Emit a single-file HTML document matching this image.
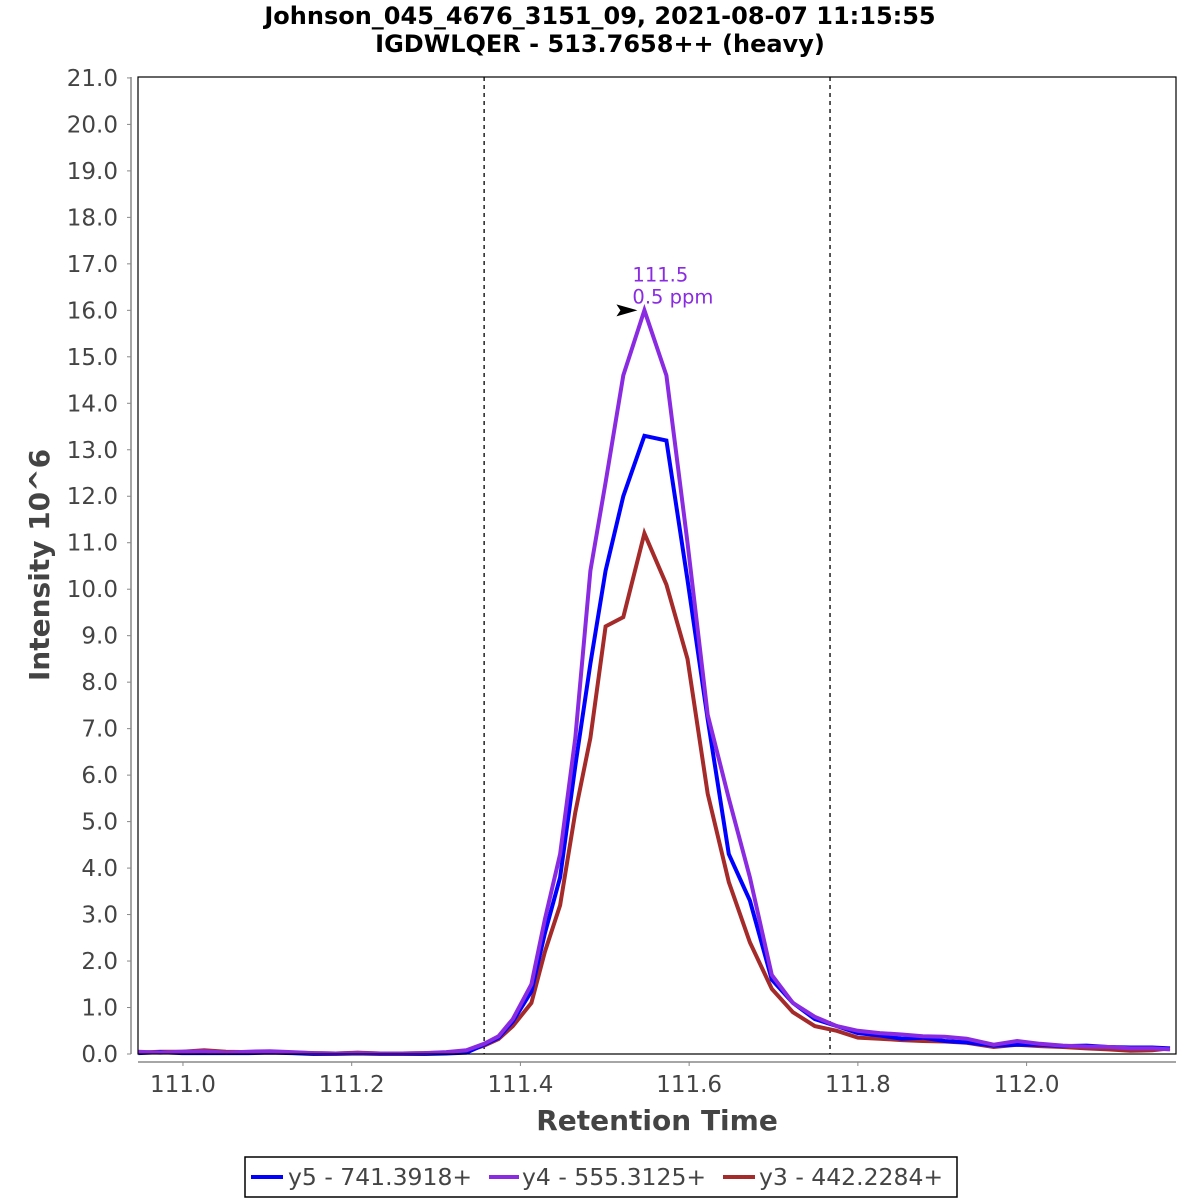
<!DOCTYPE html>
<html><head><meta charset="utf-8"><style>
body{margin:0;background:#fff;font-family:"Liberation Sans","DejaVu Sans",sans-serif}
svg{display:block}
</style></head><body>
<svg id="chart" width="1200" height="1200" xmlns="http://www.w3.org/2000/svg" font-family="DejaVu Sans, Liberation Sans, sans-serif">
<rect width="1200" height="1200" fill="#fff"/>
<text x="600" y="24" text-anchor="middle" font-size="24" font-weight="bold">Johnson_045_4676_3151_09, 2021-08-07 11:15:55</text>
<text x="600" y="52" text-anchor="middle" font-size="24" font-weight="bold">IGDWLQER - 513.7658++ (heavy)</text>
<g id="yaxis"></g>
<g id="xaxis"></g>
<g id="plot"></g>
<rect x="138" y="77" width="1038" height="977" fill="none" stroke="#000" stroke-width="1.2"/>
<text transform="translate(49,565) rotate(-90)" text-anchor="middle" font-size="28" font-weight="bold" fill="#444">Intensity 10^6</text>
<text x="657" y="1130" text-anchor="middle" font-size="28" font-weight="bold" fill="#444">Retention Time</text>
<g>
<rect x="245" y="1157" width="712" height="40" fill="#fff" stroke="#000" stroke-width="1.5"/>
<line x1="251" y1="1177" x2="283" y2="1177" stroke="#0000ff" stroke-width="4"/>
<text x="288" y="1185" font-size="23.5" fill="#444">y5 - 741.3918+</text>
<line x1="489" y1="1177" x2="519" y2="1177" stroke="#8a2be2" stroke-width="4"/>
<text x="522" y="1185" font-size="23.5" fill="#444">y4 - 555.3125+</text>
<line x1="723" y1="1177" x2="755" y2="1177" stroke="#a52a2a" stroke-width="4"/>
<text x="759" y="1185" font-size="23.5" fill="#444">y3 - 442.2284+</text>
</g>
</svg>
<script>
const times=[110.947,110.973,110.999,111.025,111.051,111.077,111.103,111.129,111.155,111.181,111.207,111.234,111.260,111.286,111.312,111.336,111.357,111.374,111.391,111.413,111.429,111.447,111.465,111.483,111.501,111.522,111.547,111.573,111.598,111.622,111.647,111.672,111.698,111.723,111.749,111.775,111.800,111.826,111.852,111.877,111.903,111.929,111.961,111.989,112.016,112.043,112.071,112.097,112.123,112.149,112.170];
const y5=[0.02,0.04,0.02,0.02,0.02,0.02,0.03,0.02,0.0,0.0,0.01,0.0,0.0,0.0,0.01,0.03,0.2,0.35,0.7,1.35,2.6,3.8,6.2,8.4,10.4,12.0,13.3,13.2,10.2,7.2,4.3,3.3,1.6,1.1,0.75,0.6,0.45,0.4,0.33,0.35,0.28,0.25,0.18,0.2,0.2,0.17,0.18,0.15,0.14,0.14,0.12];
const y4=[0.05,0.03,0.05,0.06,0.03,0.05,0.06,0.04,0.02,0.01,0.02,0.01,0.01,0.02,0.04,0.08,0.22,0.38,0.75,1.5,2.9,4.3,6.8,10.4,12.3,14.6,16.0,14.6,11.0,7.3,5.5,3.8,1.7,1.1,0.8,0.6,0.5,0.45,0.42,0.38,0.37,0.33,0.2,0.28,0.22,0.18,0.16,0.15,0.12,0.12,0.1];
const y3=[0.03,0.05,0.05,0.08,0.05,0.04,0.05,0.03,0.02,0.01,0.03,0.01,0.01,0.02,0.03,0.06,0.18,0.32,0.6,1.1,2.2,3.2,5.2,6.8,9.2,9.4,11.2,10.1,8.5,5.6,3.7,2.4,1.4,0.9,0.6,0.5,0.35,0.33,0.3,0.28,0.27,0.24,0.15,0.2,0.17,0.15,0.12,0.1,0.07,0.08,0.12];
const yTicks=[0,1,2,3,4,5,6,7,8,9,10,11,12,13,14,15,16,17,18,19,20,21];
const xTicks=[111.0,111.2,111.4,111.6,111.8,112.0];
const boundaries=[111.357,111.767];
const peakTime=111.547, peakValue=16.0;

const X0=138,X1=1176,Y0=1054,Y1=77;
const xMin=110.9467,xMax=112.1771,yMin=0,yMax=21.02;
const sx=t=>X0+(t-xMin)/(xMax-xMin)*(X1-X0);
const sy=v=>Y0-(v-yMin)/(yMax-yMin)*(Y0-Y1);
const NS="http://www.w3.org/2000/svg";
function mk(tag,attrs,parent){const e=document.createElementNS(NS,tag);for(const k in attrs)e.setAttribute(k,attrs[k]);parent.appendChild(e);return e;}
const ya=document.getElementById('yaxis'),xa=document.getElementById('xaxis'),pl=document.getElementById('plot');
mk('line',{x1:131,y1:Y1,x2:131,y2:Y0,stroke:'#888','stroke-width':1.5},ya);
yTicks.forEach(v=>{
  const tk=mk('line',{x1:127,x2:131,y1:sy(v),y2:sy(v),stroke:'#888'},ya);
  
  
  const t=mk('text',{x:118,y:sy(v)+8,'text-anchor':'end','font-size':23,fill:'#444'},ya);
  t.textContent=v.toFixed(1);
  
  
});
mk('line',{x1:X0,y1:1062,x2:X1,y2:1062,stroke:'#888','stroke-width':1.5},xa);
xTicks.forEach(v=>{
  const tk=mk('line',{x1:sx(v),x2:sx(v),y1:1062,y2:1066,stroke:'#888'},xa);
  
  
  const t=mk('text',{x:sx(v),y:1092,'text-anchor':'middle','font-size':23,fill:'#444'},xa);
  t.textContent=v.toFixed(1);
  
  
});
boundaries.forEach(b=>{
  const l=mk('line',{x1:sx(b),x2:sx(b),y1:Y1,y2:Y0,stroke:'#222','stroke-width':1.5,'stroke-dasharray':'4,4'},pl);
  
  
});
[[y3,'#a52a2a','series-y3'],[y5,'#0000ff','series-y5'],[y4,'#8a2be2','series-y4']].forEach(([d,c,n])=>{
  const pts=times.map((t,i)=>sx(t).toFixed(1)+','+sy(d[i]).toFixed(1)).join(' ');
  const p=mk('polyline',{points:pts,fill:'none',stroke:c,'stroke-width':4,'stroke-linejoin':'miter'},pl);
  
  
});
const px=sx(peakTime),py=sy(peakValue);
const ar=mk('polygon',{points:`${px-28},${py-6} ${px-7},${py} ${px-28},${py+6} ${px-24},${py}`,fill:'#000'},pl);


const a1=mk('text',{x:px-12,y:py-29,'font-size':19.5,fill:'#8a2be2'},pl);
a1.textContent='111.5';


const a2=mk('text',{x:px-12,y:py-7,'font-size':19.5,fill:'#8a2be2'},pl);
a2.textContent='0.5 ppm';


</script>
</body></html>
